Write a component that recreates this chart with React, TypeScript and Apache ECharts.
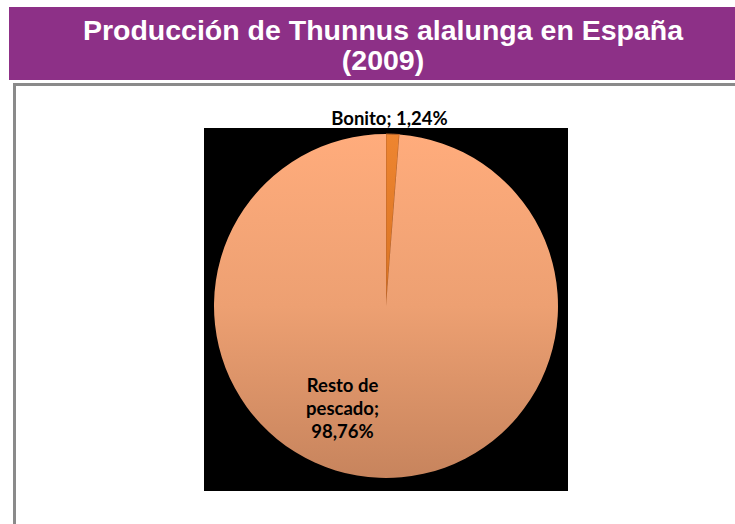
import React, { useEffect, useRef } from "react";
import * as echarts from "echarts";

const titleLines = ["Producción de Thunnus alalunga en España", "(2009)"];
const categories = ["Bonito", "Resto de pescado"];
const shares = [1.24, 98.76];

const fmtPct = (v: number) => v.toFixed(2).replace(".", ",") + "%";

export default function App() {
  const ref = useRef<HTMLDivElement>(null);
  useEffect(() => {
    if (!ref.current) return;
    const chart = echarts.init(ref.current, undefined, { renderer: "svg" });
    const labelFont = {
      fontFamily: "Lato",
      fontWeight: "bold" as const,
      fontSize: 18.5,
      color: "#000",
    };
    const titleStyle = {
      fill: "#fff",
      fontFamily: "Liberation Sans",
      fontWeight: "bold",
      fontSize: 28.5,
      textAlign: "center",
      textVerticalAlign: "middle",
    };
    chart.setOption({
      animation: false,
      backgroundColor: "#fff",
      graphic: [
        {
          type: "rect",
          shape: { x: 9, y: 7, width: 726, height: 73 },
          style: { fill: "#8D3087" },
          z: 0,
        },
        {
          type: "text",
          x: 383,
          y: 29.5,
          style: { ...titleStyle, text: titleLines[0] },
          z: 5,
        },
        {
          type: "text",
          x: 383,
          y: 60,
          style: { ...titleStyle, text: titleLines[1] },
          z: 5,
        },
        {
          type: "rect",
          shape: { x: 14.5, y: 84.5, width: 740, height: 460 },
          style: { fill: "#fff", stroke: "#8a8a8a", lineWidth: 3 },
          z: 0,
        },
        {
          type: "rect",
          shape: { x: 204, y: 128, width: 364, height: 363 },
          style: { fill: "#000" },
          z: 1,
        },
      ],
      series: [
        {
          type: "pie",
          center: [386, 306],
          radius: 172,
          startAngle: 90,
          clockwise: true,
          avoidLabelOverlap: false,
          labelLine: { show: false },
          data: categories.map((name, i) => {
            if (i === 0) {
              return {
                name,
                value: shares[i],
                itemStyle: {
                  color: new echarts.graphic.LinearGradient(0, 0, 0, 1, [
                    { offset: 0, color: "#EE8530" },
                    { offset: 1, color: "#D97322" },
                  ]),
                  borderColor: "#B9652C",
                  borderWidth: 1,
                },
                label: {
                  show: true,
                  position: "inside",
                  offset: [0, -99],
                  formatter: (p: any) => `${p.name}; ${fmtPct(p.value)}`,
                  ...labelFont,
                },
              };
            }
            return {
              name,
              value: shares[i],
              itemStyle: {
                color: new echarts.graphic.LinearGradient(0, 0, 0, 1, [
                  { offset: 0, color: "#FFAC7C" },
                  { offset: 0.5, color: "#EDA072" },
                  { offset: 1, color: "#C7845D" },
                ]),
                borderWidth: 0,
              },
              label: {
                show: true,
                position: "inside",
                offset: [-40, 13],
                align: "center",
                lineHeight: 23,
                formatter: (p: any) => {
                  const words = String(p.name).split(" ");
                  const last = words.pop();
                  return `${words.join(" ")}\n${last};\n${fmtPct(p.value)}`;
                },
                ...labelFont,
              },
            };
          }),
        },
      ],
    });
    return () => chart.dispose();
  }, []);
  return (
    <div
      ref={ref}
      style={{ position: "absolute", left: 0, top: 0, width: 735, height: 524 }}
    />
  );
}
